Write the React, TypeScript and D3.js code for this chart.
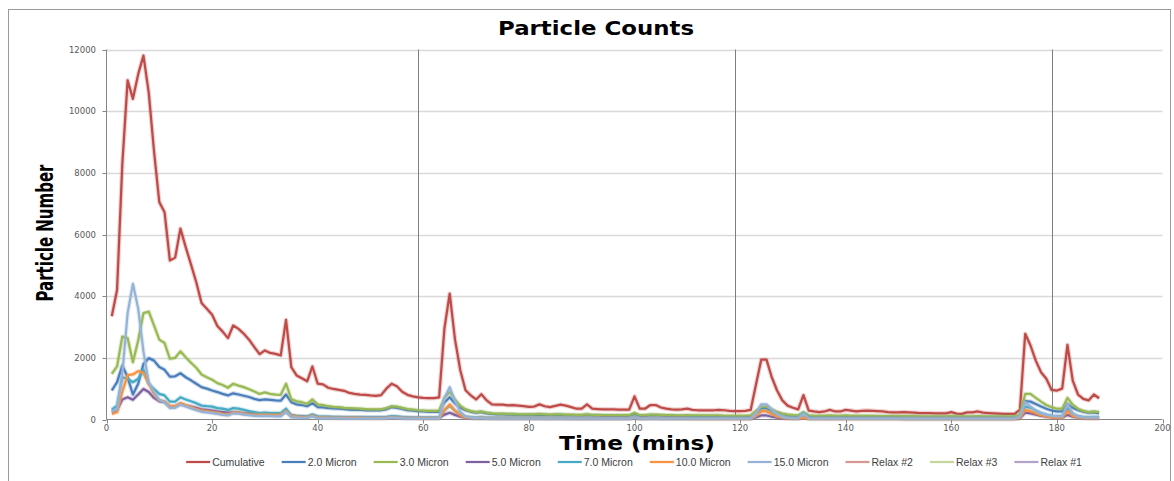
import React, { useRef, useEffect } from 'react';
import * as d3 from 'd3';

// sample times (minutes)
const minutes = Array.from({ length: 188 }, (_, i) => i + 1);

const cumulative = [
  3350, 4200, 8300, 11000, 10400, 11200, 11800, 10600, 8700, 7050,
  6720, 5160, 5250, 6190, 5590, 5030, 4450, 3780, 3590, 3400,
  3030, 2850, 2640, 3050, 2940, 2780, 2590, 2350, 2120, 2240,
  2160, 2130, 2080, 3230, 1700, 1430, 1340, 1240, 1720, 1160,
  1140, 1030, 990, 960, 930, 860, 830, 810, 800, 780,
  770, 790, 1000, 1160, 1080, 900, 800, 750, 720, 700,
  690, 690, 720, 2950, 4080, 2600, 1600, 950, 780, 650,
  820, 620, 490, 480, 480, 460, 470, 450, 430, 410,
  420, 490, 430, 400, 440, 480, 450, 400, 350, 350,
  490, 350, 340, 330, 330, 330, 320, 320, 320, 750,
  350, 350, 470, 470, 390, 350, 330, 320, 330, 350,
  310, 300, 300, 300, 300, 310, 300, 280, 270, 270,
  280, 310, 1130, 1940, 1940, 1370, 940, 620, 450, 380,
  330, 790, 290, 260, 240, 260, 310, 260, 260, 310,
  290, 260, 280, 290, 280, 270, 260, 240, 230, 230,
  240, 230, 220, 210, 210, 210, 200, 200, 200, 240,
  190, 180, 230, 230, 260, 220, 210, 200, 190, 180,
  180, 180, 320, 2780, 2400, 1910, 1530, 1320, 960, 940,
  1000, 2420, 1260, 810, 670, 620, 810, 690,
];

const micron2 = [
  940, 1210, 1750, 1370, 810, 1160, 1800, 1990, 1910, 1700,
  1610, 1390, 1400, 1500, 1370, 1270, 1160, 1050, 1000, 940,
  890, 830, 780, 850, 810, 770, 730, 670, 630, 650,
  640, 620, 610, 810, 560, 490, 470, 430, 530, 400,
  390, 370, 360, 350, 340, 320, 310, 310, 300, 300,
  300, 300, 330, 400, 380, 340, 300, 290, 270, 260,
  250, 250, 250, 550, 720, 520, 380, 300, 250, 220,
  240, 200, 180, 170, 170, 160, 160, 150, 150, 150,
  150, 160, 150, 140, 150, 150, 140, 140, 130, 130,
  150, 130, 130, 120, 120, 120, 120, 120, 120, 180,
  120, 120, 140, 140, 130, 120, 120, 110, 110, 120,
  110, 110, 110, 110, 110, 110, 100, 100, 100, 100,
  100, 110, 230, 370, 370, 290, 220, 170, 140, 120,
  110, 210, 110, 100, 100, 100, 110, 100, 100, 110,
  100, 100, 100, 100, 100, 100, 90, 90, 90, 90,
  90, 90, 90, 80, 80, 80, 80, 80, 80, 90,
  80, 80, 80, 80, 90, 80, 80, 80, 80, 80,
  80, 80, 120, 600, 580, 500, 420, 350, 290, 260,
  260, 510, 380, 300, 250, 220, 230, 200,
];

const micron3 = [
  1480, 1720, 2690, 2640, 1860, 2560, 3450, 3500, 3050, 2590,
  2480, 1970, 2000, 2210, 2020, 1840, 1680, 1460, 1370, 1290,
  1180, 1120, 1030, 1160, 1100, 1050, 980, 910, 830, 880,
  830, 810, 800, 1160, 660, 590, 560, 510, 650, 490,
  470, 430, 410, 400, 380, 370, 360, 350, 340, 330,
  330, 330, 370, 430, 420, 380, 340, 320, 300, 290,
  280, 280, 290, 700, 890, 650, 450, 330, 270, 240,
  260, 220, 200, 190, 190, 180, 180, 170, 170, 170,
  170, 180, 170, 160, 170, 170, 160, 160, 150, 150,
  170, 150, 150, 140, 140, 140, 140, 140, 140, 220,
  140, 140, 160, 160, 150, 140, 140, 130, 130, 140,
  130, 130, 130, 130, 130, 130, 120, 120, 120, 120,
  120, 130, 280, 420, 420, 330, 250, 190, 160, 140,
  130, 240, 130, 120, 120, 120, 130, 120, 120, 130,
  120, 120, 120, 120, 120, 110, 110, 110, 110, 110,
  110, 110, 110, 100, 100, 100, 100, 100, 100, 110,
  100, 100, 100, 100, 110, 100, 100, 100, 100, 100,
  100, 100, 150, 830, 830, 700, 580, 470, 400, 350,
  350, 700, 480, 350, 280, 240, 260, 240,
];

const micron5 = [
  240, 310, 650, 720, 640, 810, 990, 890, 700, 590,
  560, 420, 420, 510, 460, 420, 380, 330, 310, 290,
  260, 240, 220, 240, 230, 210, 200, 190, 180, 190,
  180, 180, 170, 260, 130, 110, 100, 90, 140, 80,
  80, 70, 70, 70, 60, 60, 60, 60, 60, 60,
  60, 60, 60, 80, 70, 60, 50, 50, 50, 50,
  50, 50, 50, 160, 220, 150, 90, 60, 50, 40,
  50, 40, 40, 40, 40, 40, 40, 40, 40, 40,
  40, 40, 40, 30, 40, 40, 30, 30, 30, 30,
  40, 30, 30, 30, 30, 30, 30, 30, 30, 50,
  30, 30, 40, 40, 30, 30, 30, 30, 30, 30,
  30, 30, 30, 30, 30, 30, 30, 30, 30, 30,
  30, 30, 70, 130, 130, 90, 60, 40, 30, 30,
  30, 60, 30, 30, 30, 30, 30, 30, 30, 30,
  30, 30, 30, 30, 30, 30, 30, 30, 30, 30,
  20, 20, 20, 20, 20, 20, 20, 20, 20, 20,
  20, 20, 20, 20, 20, 20, 20, 20, 20, 20,
  20, 20, 40, 220, 200, 160, 120, 90, 70, 60,
  60, 150, 90, 60, 50, 40, 50, 40,
];

const micron7 = [
  320, 450, 1370, 1320, 1210, 1320, 1620, 1160, 990, 830,
  780, 580, 580, 720, 650, 590, 530, 450, 430, 420,
  370, 350, 310, 370, 350, 310, 270, 240, 210, 220,
  210, 210, 210, 350, 140, 110, 100, 90, 160, 100,
  90, 90, 80, 80, 80, 70, 70, 70, 70, 70,
  70, 70, 80, 110, 100, 80, 70, 60, 60, 60,
  60, 60, 60, 300, 450, 290, 160, 90, 70, 60,
  70, 50, 50, 50, 50, 50, 50, 50, 50, 50,
  50, 50, 50, 40, 50, 50, 40, 40, 40, 40,
  50, 40, 40, 40, 40, 40, 40, 40, 40, 70,
  40, 40, 50, 50, 40, 40, 40, 40, 40, 40,
  40, 40, 40, 40, 40, 40, 40, 40, 40, 40,
  40, 40, 120, 280, 280, 190, 120, 80, 60, 50,
  50, 200, 50, 40, 40, 40, 40, 40, 40, 40,
  40, 40, 40, 40, 40, 40, 40, 40, 40, 40,
  30, 30, 30, 30, 30, 30, 30, 30, 30, 30,
  30, 30, 30, 30, 30, 30, 30, 30, 30, 30,
  30, 30, 60, 420, 380, 290, 210, 160, 120, 110,
  110, 360, 180, 110, 80, 70, 80, 70,
];

const micron10 = [
  180, 240, 900, 1440, 1460, 1570, 1510, 1160, 830, 620,
  590, 430, 430, 530, 460, 400, 340, 290, 270, 240,
  220, 180, 160, 230, 220, 190, 170, 160, 150, 160,
  150, 150, 150, 270, 110, 90, 80, 70, 120, 60,
  60, 60, 50, 50, 50, 50, 50, 50, 40, 40,
  40, 40, 50, 70, 60, 50, 40, 40, 40, 40,
  40, 40, 40, 300, 490, 280, 140, 70, 50, 40,
  60, 40, 30, 30, 30, 30, 30, 30, 30, 30,
  30, 30, 30, 30, 30, 30, 30, 30, 30, 30,
  40, 30, 30, 30, 30, 30, 30, 30, 30, 60,
  30, 30, 30, 30, 30, 30, 30, 30, 30, 30,
  20, 20, 20, 20, 20, 20, 20, 20, 20, 20,
  20, 20, 120, 270, 270, 180, 100, 60, 40, 30,
  30, 60, 20, 20, 20, 20, 20, 20, 20, 20,
  20, 20, 20, 20, 20, 20, 20, 20, 20, 20,
  20, 20, 20, 20, 20, 20, 20, 20, 20, 20,
  20, 20, 20, 20, 20, 20, 20, 20, 20, 20,
  20, 20, 50, 310, 270, 200, 140, 100, 70, 60,
  60, 270, 120, 70, 50, 40, 50, 40,
];

const micron15 = [
  260, 350, 1500, 3450, 4400, 3600, 2200, 1200, 900, 640,
  560, 370, 380, 480, 420, 360, 300, 250, 230, 210,
  180, 150, 130, 200, 190, 160, 140, 120, 110, 120,
  110, 100, 100, 250, 70, 60, 50, 50, 100, 40,
  40, 40, 40, 40, 30, 30, 30, 30, 30, 30,
  30, 30, 40, 60, 50, 40, 30, 30, 30, 30,
  30, 30, 30, 700, 1050, 600, 250, 100, 60, 40,
  50, 30, 30, 30, 30, 30, 30, 30, 30, 30,
  30, 30, 30, 30, 30, 30, 30, 30, 30, 30,
  40, 30, 30, 30, 30, 30, 30, 30, 30, 60,
  30, 30, 30, 30, 30, 30, 30, 30, 30, 30,
  30, 30, 30, 30, 30, 30, 30, 30, 30, 30,
  30, 30, 200, 490, 490, 330, 180, 90, 50, 40,
  40, 200, 40, 30, 30, 30, 30, 30, 30, 30,
  30, 30, 30, 30, 30, 30, 30, 30, 30, 30,
  30, 30, 30, 30, 30, 30, 30, 30, 30, 30,
  30, 30, 30, 30, 30, 30, 30, 30, 30, 30,
  30, 30, 100, 560, 420, 280, 200, 150, 120, 100,
  100, 500, 200, 100, 70, 60, 70, 60,
];

// relax periods drawn as vertical markers
const relaxTimes = [59, 119, 179];

const seriesNames = ['Cumulative', '2.0 Micron', '3.0 Micron', '5.0 Micron', '7.0 Micron', '10.0 Micron', '15.0 Micron', 'Relax #2', 'Relax #3', 'Relax #1'];
const seriesColors = ['#BE4B48', '#4A7EBB', '#98B954', '#7D60A0', '#46AAC5', '#F69240', '#95B3D7', '#D99694', '#C3D69B', '#B3A2C7'];
const seriesValues = [cumulative, micron2, micron3, micron5, micron7, micron10, micron15];

const yTicks = [0, 2000, 4000, 6000, 8000, 10000, 12000];
const xTicks = [0, 20, 40, 60, 80, 100, 120, 140, 160, 180, 200];

const W = 1174;
const H = 481;

const ParticleChart = () => {
  const svgRef = useRef(null);

  useEffect(() => {
    const svg = d3.select(svgRef.current);
    svg.selectAll('*').remove();

    const x = d3.scaleLinear().domain([0, 200]).range([106.5, 1162.5]);
    const y = d3.scaleLinear().domain([0, 12000]).range([419.5, 49.5]);

    // outer frame
    svg.append('rect')
      .attr('x', 8.5).attr('y', 9.5)
      .attr('width', 1162).attr('height', 490)
      .attr('fill', '#fff').attr('stroke', '#9a9a9a');

    svg.append('text')
      .attr('x', 596).attr('y', 35)
      .attr('text-anchor', 'middle')
      .attr('textLength', 196)
      .attr('lengthAdjust', 'spacingAndGlyphs')
      .style('font-family', '"DejaVu Sans", Verdana, sans-serif')
      .style('font-weight', 'bold')
      .style('font-size', '20px')
      .text('Particle Counts');

    // gridlines
    svg.append('g').selectAll('line')
      .data(yTicks.filter(d => d > 0))
      .enter().append('line')
      .attr('x1', x(0)).attr('x2', x(200))
      .attr('y1', d => Math.round(y(d)) + 0.5).attr('y2', d => Math.round(y(d)) + 0.5)
      .attr('stroke', '#d9d9d9').attr('stroke-width', 1.5);

    // relax markers
    svg.append('g').selectAll('line')
      .data(relaxTimes)
      .enter().append('line')
      .attr('x1', d => Math.round(x(d)) + 0.5).attr('x2', d => Math.round(x(d)) + 0.5)
      .attr('y1', y(12000)).attr('y2', y(0))
      .attr('stroke', '#7f7f7f').attr('stroke-width', 1);

    // axes
    const axisColor = '#868686';
    svg.append('line')
      .attr('x1', x(0)).attr('x2', x(0)).attr('y1', y(12000)).attr('y2', y(0))
      .attr('stroke', axisColor);
    svg.append('line')
      .attr('x1', x(0)).attr('x2', x(200)).attr('y1', y(0)).attr('y2', y(0))
      .attr('stroke', axisColor);

    const yt = svg.append('g').selectAll('g').data(yTicks).enter().append('g');
    yt.append('line')
      .attr('x1', x(0) - 4).attr('x2', x(0))
      .attr('y1', d => Math.round(y(d)) + 0.5).attr('y2', d => Math.round(y(d)) + 0.5)
      .attr('stroke', axisColor);
    yt.append('text')
      .attr('x', 96).attr('y', d => y(d) + 3)
      .attr('text-anchor', 'end')
      .style('font-family', '"DejaVu Sans", Verdana, sans-serif')
      .style('font-size', '8.5px')
      .attr('fill', '#595959')
      .text(d => d);

    const xt = svg.append('g').selectAll('g').data(xTicks).enter().append('g');
    xt.append('line')
      .attr('x1', d => Math.round(x(d)) + 0.5).attr('x2', d => Math.round(x(d)) + 0.5)
      .attr('y1', y(0)).attr('y2', y(0) + 4)
      .attr('stroke', axisColor);
    xt.append('text')
      .attr('x', d => x(d)).attr('y', 431)
      .attr('text-anchor', 'middle')
      .style('font-family', '"DejaVu Sans", Verdana, sans-serif')
      .style('font-size', '8.5px')
      .attr('fill', '#595959')
      .text(d => d);

    // axis titles
    svg.append('text')
      .attr('x', 637).attr('y', 450)
      .attr('text-anchor', 'middle')
      .attr('textLength', 156)
      .attr('lengthAdjust', 'spacingAndGlyphs')
      .style('font-family', '"DejaVu Sans", Verdana, sans-serif')
      .style('font-weight', 'bold')
      .style('font-size', '20px')
      .text('Time (mins)');

    svg.append('text')
      .attr('transform', 'translate(53,233) rotate(-90)')
      .attr('text-anchor', 'middle')
      .attr('textLength', 137)
      .attr('lengthAdjust', 'spacingAndGlyphs')
      .style('font-family', '"Liberation Sans Narrow", "DejaVu Sans Condensed", sans-serif')
      .style('font-weight', 'bold')
      .style('font-size', '23px')
      .text('Particle Number');

    // series lines
    const line = d3.line()
      .x((d, i) => x(minutes[i]))
      .y(d => y(d));

    const lines = svg.append('g');
    seriesValues.forEach((vals, k) => {
      lines.append('path')
        .attr('d', line(vals))
        .attr('fill', 'none')
        .attr('stroke', seriesColors[k])
        .attr('stroke-opacity', 0.25)
        .attr('stroke-width', 4.5)
        .attr('stroke-linejoin', 'round');
      lines.append('path')
        .attr('d', line(vals))
        .attr('fill', 'none')
        .attr('stroke', seriesColors[k])
        .attr('stroke-width', 2.25)
        .attr('stroke-linejoin', 'round');
    });

    // legend
    const lg = svg.append('g');
    const items = seriesNames.map((name, k) => {
      const g = lg.append('g');
      g.append('line')
        .attr('x1', 0).attr('x2', 24).attr('y1', 0).attr('y2', 0)
        .attr('stroke', seriesColors[k]).attr('stroke-width', 2.25);
      const t = g.append('text')
        .attr('x', 26).attr('y', 3.5)
        .style('font-family', '"Liberation Sans", Arial, sans-serif')
        .style('font-size', '10.5px')
        .attr('fill', '#404040')
        .text(name);
      const w = (t.node() as SVGTextElement).getComputedTextLength();
      return { g, w: 26 + w };
    });
    const gap = 17;
    const total = d3.sum(items, d => d.w) + gap * (items.length - 1);
    let cx = 634 - total / 2;
    items.forEach(it => {
      it.g.attr('transform', `translate(${cx},462)`);
      cx += it.w + gap;
    });
  }, []);

  return (
    <svg ref={svgRef} width={W} height={H} style={{ position: 'absolute', left: 0, top: 0 }} />
  );
};

export default function App() {
  return <ParticleChart />;
}
